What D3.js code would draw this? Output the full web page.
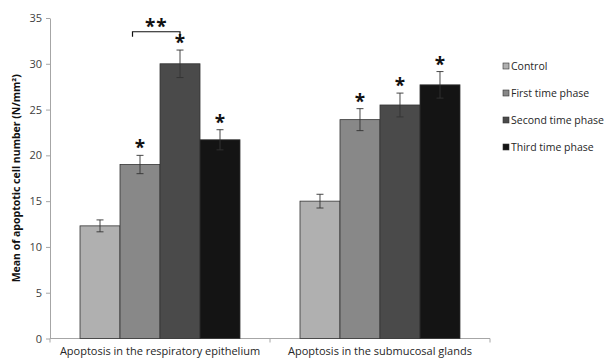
<!DOCTYPE html>
<html>
<head>
<meta charset="utf-8">
<script src="https://cdn.jsdelivr.net/npm/d3@7"></script>
<style>
    body { margin: 0; background: #fff; }
    text { font-family: "Open Sans", sans-serif; }
</style>
</head>
<body>
<div id="chart"></div>
<script>
const categories = ["Apoptosis in the respiratory epithelium", "Apoptosis in the submucosal glands"];
const series = ["Control", "First time phase", "Second time phase", "Third time phase"];
const means = [
    [12.3, 19.0, 30.0, 21.7],
    [15.0, 23.9, 25.5, 27.7]
];
const errors = [
    [0.65, 1.0, 1.5, 1.1],
    [0.75, 1.2, 1.3, 1.45]
];
// asterisk marks (significant vs control)
const marks = [
    [false, true, true, true],
    [false, true, true, true]
];
const yTicks = [0, 5, 10, 15, 20, 25, 30, 35];
const colors = ["#b0b0b0", "#888888", "#4a4a4a", "#141414"];

const svg = d3.select("#chart").append("svg")
    .attr("width", 608)
    .attr("height", 360);

const margin = { top: 18, left: 50 },
    width = 440,
    height = 320.5;

const x0 = d3.scaleBand().domain(categories).range([0, width]).paddingInner(0.2727).paddingOuter(0.1364);
const x1 = d3.scaleBand().domain(series).range([0, x0.bandwidth()]);
const y = d3.scaleLinear().domain([0, 35]).range([height, 0]);

const g = svg.append("g").attr("transform", `translate(${margin.left},${margin.top})`);

// y axis
const yAxis = g.append("g").call(d3.axisLeft(y).tickValues(yTicks).tickSize(4).tickSizeOuter(0));
yAxis.select(".domain").attr("stroke", "#a6a6a6");
yAxis.selectAll(".tick line").attr("stroke", "#a6a6a6");
yAxis.selectAll(".tick text")
    .attr("x", -8)
    .attr("fill", "#404040")
    .style("font-size", "11px")
    .style("font-family", "Open Sans, sans-serif");

// x axis: ticks at category boundaries
const xb = d3.scaleLinear().domain([0, categories.length]).range([0, width]);
g.append("line")
    .attr("x1", 0).attr("x2", width)
    .attr("y1", height).attr("y2", height)
    .attr("stroke", "#a6a6a6");
g.selectAll(".xtick")
    .data(d3.range(categories.length + 1))
    .enter().append("line")
    .attr("x1", d => xb(d)).attr("x2", d => xb(d))
    .attr("y1", height).attr("y2", height + 4)
    .attr("stroke", "#a6a6a6");
g.selectAll(".xlabel")
    .data(categories)
    .enter().append("text")
    .attr("x", d => x0(d) + x0.bandwidth() / 2)
    .attr("y", height + 16.5)
    .attr("text-anchor", "middle")
    .attr("fill", "#262626")
    .style("font-size", "11px")
    .text(d => d);

// bars
const rows = [];
categories.forEach((c, i) => {
    series.forEach((s, j) => {
        rows.push({ cat: c, ser: s, v: means[i][j], e: errors[i][j], mark: marks[i][j], color: colors[j] });
    });
});

g.selectAll(".bar")
    .data(rows)
    .enter().append("rect")
    .attr("x", d => x0(d.cat) + x1(d.ser))
    .attr("y", d => y(d.v))
    .attr("width", x1.bandwidth())
    .attr("height", d => height - y(d.v))
    .attr("fill", d => d.color)
    .attr("stroke", "#333")
    .attr("stroke-width", 0.8);

// error bars
const cx = d => x0(d.cat) + x1(d.ser) + x1.bandwidth() / 2;
const eb = g.selectAll(".err").data(rows).enter().append("g").attr("stroke", "#333").attr("stroke-width", 0.9);
eb.append("line").attr("x1", cx).attr("x2", cx).attr("y1", d => y(d.v + d.e)).attr("y2", d => y(d.v - d.e));
eb.append("line").attr("x1", d => cx(d) - 3.5).attr("x2", d => cx(d) + 3.5).attr("y1", d => y(d.v + d.e)).attr("y2", d => y(d.v + d.e));
eb.append("line").attr("x1", d => cx(d) - 3.5).attr("x2", d => cx(d) + 3.5).attr("y1", d => y(d.v - d.e)).attr("y2", d => y(d.v - d.e));

// asterisks
g.selectAll(".star")
    .data(rows.filter(d => d.mark))
    .enter().append("text")
    .attr("x", cx)
    .attr("y", d => y(d.v + d.e) - 1)
    .attr("text-anchor", "middle")
    .attr("fill", "#111")
    .style("font-size", "19px")
    .style("font-weight", "bold")
    .text("*");

// bracket between first and second time phase (respiratory epithelium)
const bx1 = x0(categories[0]) + x1(series[1]) + 12.5;
const bx2 = x0(categories[0]) + x1(series[2]) + x1.bandwidth() / 2;
const by = y(33.5);
g.append("path")
    .attr("d", `M${bx1},${by + 5}V${by}H${bx2}V${by + 5}`)
    .attr("fill", "none")
    .attr("stroke", "#111")
    .attr("stroke-width", 1.2);
g.append("text")
    .attr("x", (bx1 + bx2) / 2)
    .attr("y", by + 1)
    .attr("text-anchor", "middle")
    .attr("fill", "#111")
    .style("font-size", "19px")
    .style("font-weight", "bold")
    .style("letter-spacing", "1px")
    .text("**");

// y title
svg.append("text")
    .attr("transform", `translate(20,${margin.top + height / 2}) rotate(-90)`)
    .attr("text-anchor", "middle")
    .attr("fill", "#111")
    .style("font-size", "10.5px")
    .style("font-weight", "bold")
    .text("Mean of apoptotic cell number (N/mm²)");

// legend
const legend = svg.append("g").attr("transform", "translate(503,66)");
const li = legend.selectAll(".li").data(series).enter().append("g")
    .attr("transform", (d, i) => `translate(0,${i * 27})`);
li.append("rect")
    .attr("x", 0).attr("y", -3)
    .attr("width", 6).attr("height", 6)
    .attr("fill", (d, i) => colors[i])
    .attr("stroke", "#333")
    .attr("stroke-width", 0.6);
li.append("text")
    .attr("x", 8)
    .attr("dy", "0.35em")
    .attr("fill", "#262626")
    .style("font-size", "10.5px")
    .text(d => d);
</script>
</body>
</html>
